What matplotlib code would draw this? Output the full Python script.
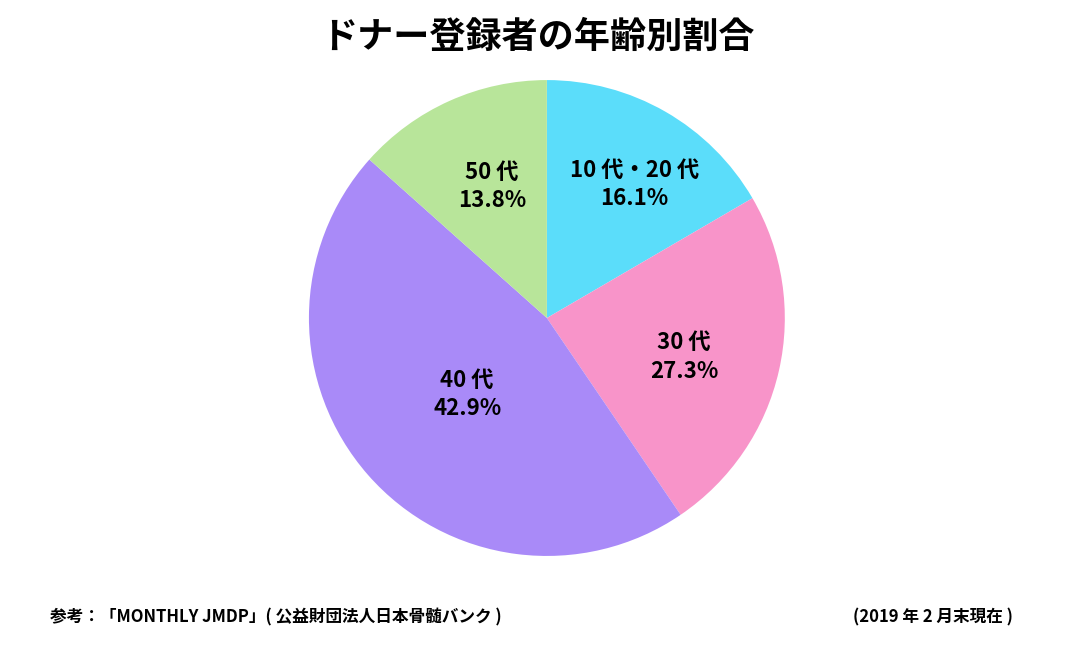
import numpy as np
import matplotlib
matplotlib.use('Agg')
from matplotlib import pyplot as plt

plt.rcParams['font.family'] = ['Noto Sans CJK JP', 'DejaVu Sans']

# data
groups = ['10 代・20 代', '30 代', '40 代', '50 代']
shares = [16.1, 27.3, 42.9, 13.8]          # printed percentages
slice_sizes = [16.6, 23.9, 46.1, 13.4]     # wedge sizes as drawn in the picture
colors = ['#5BDDFA', '#F894C9', '#A98AF8', '#B8E59A']

# label placement (radius fraction, angle nudge in degrees)
label_r = [0.67, 0.60, 0.465, 0.60]
label_nudge = [-3.4, -3.0, 2.7, -1.5]

fig = plt.figure(figsize=(10.65, 6.51), dpi=100)
ax = fig.add_axes([0.290, 0.146, 0.447, 0.731])
wedges, _ = ax.pie(slice_sizes, colors=colors, startangle=90, counterclock=False,
                   wedgeprops=dict(linewidth=0))
ax.set_xlim(-1, 1)
ax.set_ylim(-1, 1)
ax.set_aspect('equal')
ax.axis('off')

# labels inside each slice
for w, g, s, r, d in zip(wedges, groups, shares, label_r, label_nudge):
    ang = np.deg2rad((w.theta1 + w.theta2) / 2 + d)
    ax.text(r * np.cos(ang), r * np.sin(ang), f'{g}\n{s:.1f}%',
            ha='center', va='center', fontsize=16, fontweight='bold',
            linespacing=1.3)

fig.text(0.505, 0.942, 'ドナー登録者の年齢別割合', ha='center', va='center',
         fontsize=26, fontweight='bold')
fig.text(0.047, 0.052, '参考：「MONTHLY JMDP」( 公益財団法人日本骨髄バンク )',
         ha='left', va='center', fontsize=12, fontweight='bold')
fig.text(0.951, 0.052, '(2019 年 2 月末現在 )',
         ha='right', va='center', fontsize=12, fontweight='bold')

fig.savefig('out.png', dpi=100)
